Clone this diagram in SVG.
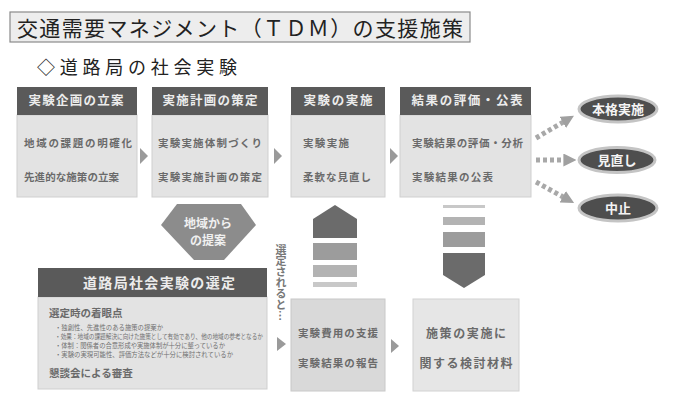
<svg xmlns="http://www.w3.org/2000/svg" width="676" height="394" viewBox="0 0 676 394">
<defs>
<style>
text{font-family:"Noto Sans CJK JP","Noto Sans",sans-serif}
.hd{fill:#5a5a5a}
.bd{fill:#e3e3e3;stroke:#cfcfcf;stroke-width:1}
.ht{fill:#ececec;font-size:12.5px;font-weight:bold;text-anchor:middle}
.bt{fill:#6a6a6a;font-size:10.5px;font-weight:bold}
.tri{fill:#9a9a9a}
.ell{fill:#4e4e4e;stroke:#c4c4c4;stroke-width:3}
.et{fill:#f4f4f4;font-size:13px;font-weight:bold;text-anchor:middle}
.dot{fill:none;stroke:#a8a8a8;stroke-width:5;stroke-dasharray:4 3}
.sm{fill:#707070;font-size:6.5px}
</style>
<marker id="ah" viewBox="0 0 10 10" refX="2" refY="5" markerWidth="2.6" markerHeight="2.6" orient="auto" markerUnits="strokeWidth">
<path d="M0,0 L10,5 L0,10 Z" fill="#a0a0a0"/>
</marker>
</defs>

<g id="title">
<rect x="10" y="12" width="460" height="30" fill="#ededed" stroke="#8a8a8a" stroke-width="1.2"/>
<text x="17" y="36" font-size="21" fill="#222" textLength="446" lengthAdjust="spacing">交通需要マネジメント（ＴＤＭ）の支援施策</text>
</g>
<g id="subtitle">
<text x="37" y="74" font-size="18" fill="#222" textLength="200" lengthAdjust="spacing">◇道路局の社会実験</text>
</g>

<g id="step1">
<rect class="bd" x="17" y="115" width="120" height="82"/>
<rect class="hd" x="17" y="87" width="120" height="28"/>
<text class="ht" x="76" y="105" textLength="95" lengthAdjust="spacing">実験企画の立案</text>
<text class="bt" x="24" y="147" textLength="108" lengthAdjust="spacing">地域の課題の明確化</text>
<text class="bt" x="24" y="181" textLength="95" lengthAdjust="spacing">先進的な施策の立案</text>
</g>
<g id="step2">
<rect class="bd" x="152" y="115" width="116" height="82"/>
<rect class="hd" x="152" y="87" width="116" height="28"/>
<text class="ht" x="210" y="105" textLength="95" lengthAdjust="spacing">実施計画の策定</text>
<text class="bt" x="158" y="147" textLength="104" lengthAdjust="spacing">実験実施体制づくり</text>
<text class="bt" x="158" y="181" textLength="104" lengthAdjust="spacing">実験実施計画の策定</text>
</g>
<g id="step3">
<rect class="bd" x="291" y="115" width="94" height="82"/>
<rect class="hd" x="291" y="87" width="94" height="28"/>
<text class="ht" x="338" y="105" textLength="69" lengthAdjust="spacing">実験の実施</text>
<text class="bt" x="303" y="147" textLength="46" lengthAdjust="spacing">実験実施</text>
<text class="bt" x="303" y="181" textLength="68" lengthAdjust="spacing">柔軟な見直し</text>
</g>
<g id="step4">
<rect class="bd" x="400" y="115" width="131" height="82"/>
<rect class="hd" x="400" y="87" width="131" height="28"/>
<text class="ht" x="467" y="105" textLength="111" lengthAdjust="spacing">結果の評価・公表</text>
<text class="bt" x="412" y="147" textLength="111" lengthAdjust="spacing">実験結果の評価・分析</text>
<text class="bt" x="412" y="181" textLength="81" lengthAdjust="spacing">実験結果の公表</text>
</g>

<g id="outcome-honkaku">
<ellipse class="ell" cx="618" cy="109" rx="39" ry="13"/>
<text class="et" x="618" y="114">本格実施</text>
</g>
<g id="outcome-minaoshi">
<ellipse class="ell" cx="617" cy="160" rx="38" ry="12.5"/>
<text class="et" x="617" y="165">見直し</text>
</g>
<g id="outcome-chushi">
<ellipse class="ell" cx="618" cy="208" rx="39" ry="13"/>
<text class="et" x="618" y="213">中止</text>
</g>

<g id="proposal">
<polygon points="177,204 241,204 256,225 224,260 194,260 161,225" fill="#8c8c8c"/>
<text x="208" y="228" font-size="12" font-weight="bold" fill="#f0f0f0" text-anchor="middle">地域から</text>
<text x="208" y="245" font-size="12" font-weight="bold" fill="#f0f0f0" text-anchor="middle">の提案</text>
</g>

<g id="selection">
<rect x="38" y="297" width="229" height="92" fill="#e3e3e3" stroke="#cfcfcf"/>
<rect class="hd" x="38" y="268" width="229" height="29"/>
<text x="159" y="288" font-size="14" font-weight="bold" fill="#ececec" text-anchor="middle" textLength="152" lengthAdjust="spacing">道路局社会実験の選定</text>
<text x="49" y="317" font-size="10.5" font-weight="bold" fill="#6a6a6a">選定時の着眼点</text>
<text class="sm" x="55" y="330" textLength="108" lengthAdjust="spacingAndGlyphs">・独創性、先進性のある施策の提案か</text>
<text class="sm" x="55" y="339" textLength="208" lengthAdjust="spacingAndGlyphs">・効果：地域の課題解決に向けた施策として有効であり、他の地域の参考となるか</text>
<text class="sm" x="55" y="348" textLength="170" lengthAdjust="spacingAndGlyphs">・体制：関係者の合意形成や実施体制が十分に整っているか</text>
<text class="sm" x="55" y="357" textLength="178" lengthAdjust="spacingAndGlyphs">・実験の実現可能性、評価方法などが十分に検討されているか</text>
<text x="49" y="377" font-size="10.5" font-weight="bold" fill="#6a6a6a">懇談会による審査</text>
</g>

<g id="support">
<rect x="291" y="299" width="94" height="92" fill="#d9d9d9" stroke="#c8c8c8"/>
<text class="bt" x="298" y="337" textLength="80" lengthAdjust="spacing">実験費用の支援</text>
<text class="bt" x="298" y="367" textLength="80" lengthAdjust="spacing">実験結果の報告</text>
</g>
<g id="material">
<rect x="413" y="299" width="106" height="92" fill="#e6e6e6" stroke="#d2d2d2"/>
<text x="466" y="338" font-size="12" font-weight="bold" fill="#6a6a6a" text-anchor="middle" textLength="80" lengthAdjust="spacing">施策の実施に</text>
<text x="466" y="368" font-size="12" font-weight="bold" fill="#6a6a6a" text-anchor="middle" textLength="93" lengthAdjust="spacing">関する検討材料</text>
</g>

<g id="connectors">
<polygon class="tri" points="140,148 148,156 140,164"/>
<polygon class="tri" points="274,148 282,156 274,164"/>
<polygon class="tri" points="390,148 398,156 390,164"/>
<path class="dot" d="M536,138 L565,121" marker-end="url(#ah)"/>
<path class="dot" d="M536,160 L566,160" marker-end="url(#ah)"/>
<path class="dot" d="M536,182 L565,198" marker-end="url(#ah)"/>
<polygon points="335,205 357,219 357,238 313,238 313,219" fill="#6b6b6b"/>
<rect x="313" y="243" width="44" height="17" fill="#9c9c9c"/>
<rect x="313" y="265" width="44" height="12" fill="#b3b3b3"/>
<rect x="313" y="282" width="44" height="5" fill="#c8c8c8"/>
<rect x="443" y="205" width="42" height="3" fill="#c8c8c8"/>
<rect x="443" y="217" width="42" height="8" fill="#b3b3b3"/>
<rect x="443" y="232" width="42" height="15" fill="#9c9c9c"/>
<polygon points="443,253 485,253 485,275 464,288 443,275" fill="#6b6b6b"/>
<text x="281" y="244" font-size="11" font-weight="bold" fill="#777" style="writing-mode:vertical-rl;glyph-orientation-vertical:0">選定されると…</text>
<polygon class="tri" points="277,337 286,344 277,351"/>
<polygon class="tri" points="391,339 399,346 391,353"/>
</g>
</svg>
